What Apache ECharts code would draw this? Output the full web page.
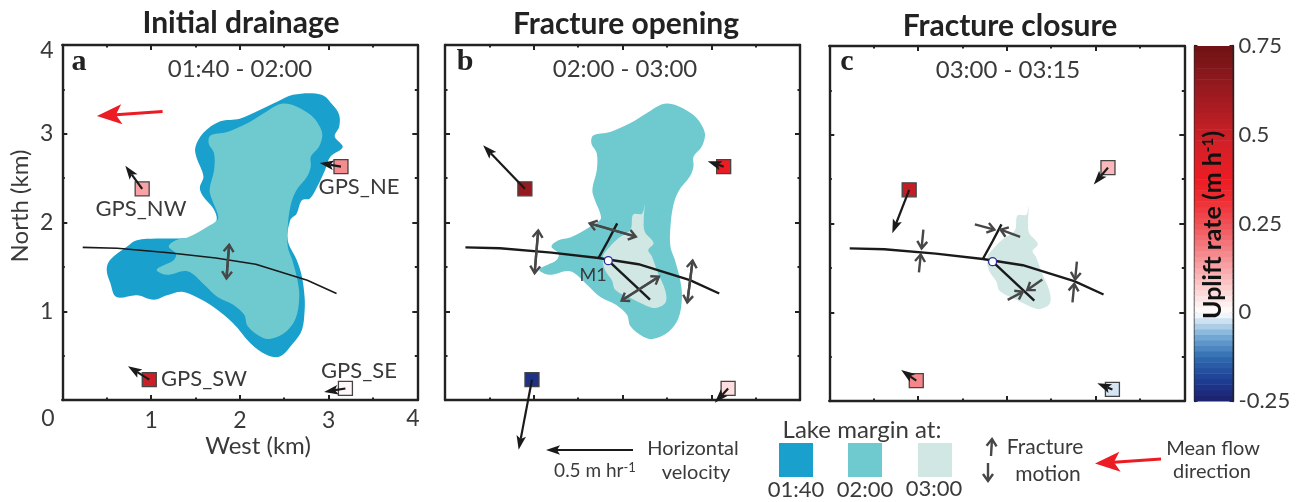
<!DOCTYPE html>
<html>
<head>
<meta charset="utf-8">
<style>html,body{margin:0;padding:0;background:#fff}#box{width:1299px;height:502px}</style>
<script src="https://cdn.jsdelivr.net/npm/echarts@6/dist/echarts.min.js"></script>
</head>
<body>
<div id="box"></div>
<script>
// all map values in km (West, North)
var lake0140 = [[2.60,3.44],[2.92,3.44],[3.05,3.32],[3.12,3.21],[3.12,3.08],[3.07,2.97],[3.16,2.85],[3.02,2.74],[2.96,2.59],[2.87,2.40],[2.79,2.27],[2.70,2.25],[2.64,2.10],[2.57,2.03],[2.54,1.80],[2.64,1.58],[2.70,1.39],[2.73,1.16],[2.73,1.00],[2.70,0.79],[2.60,0.64],[2.45,0.49],[2.30,0.51],[2.12,0.64],[1.93,0.86],[1.70,1.05],[1.51,1.16],[1.35,1.22],[1.18,1.18],[1.03,1.13],[0.84,1.18],[0.61,1.16],[0.54,1.32],[0.50,1.47],[0.54,1.58],[0.73,1.73],[0.84,1.80],[1.06,1.82],[1.25,1.82],[1.51,1.84],[1.66,1.93],[1.74,2.03],[1.70,2.16],[1.59,2.29],[1.55,2.39],[1.59,2.52],[1.51,2.74],[1.50,2.85],[1.59,3.01],[1.78,3.14],[2.00,3.17],[2.23,3.27],[2.42,3.36]];
var lake0200 = [[2.50,3.34],[2.63,3.31],[2.80,3.21],[2.89,3.10],[2.93,2.99],[2.89,2.85],[2.80,2.74],[2.80,2.63],[2.76,2.52],[2.63,2.35],[2.57,2.18],[2.54,1.95],[2.54,1.73],[2.59,1.58],[2.65,1.35],[2.67,1.16],[2.63,0.92],[2.52,0.77],[2.35,0.69],[2.24,0.71],[2.09,0.83],[2.05,0.96],[1.93,1.07],[1.75,1.16],[1.60,1.30],[1.41,1.45],[1.18,1.41],[1.07,1.45],[1.07,1.48],[1.15,1.52],[1.26,1.58],[1.28,1.65],[1.20,1.73],[1.28,1.80],[1.41,1.83],[1.63,1.95],[1.75,2.03],[1.75,2.10],[1.69,2.25],[1.66,2.37],[1.71,2.59],[1.71,2.78],[1.65,2.89],[1.67,2.98],[1.86,3.02],[2.09,3.12],[2.27,3.23],[2.42,3.32]];
var lake0300 = [[2.25,2.20],[2.22,2.10],[2.12,2.09],[2.09,1.92],[1.95,1.82],[1.86,1.73],[1.78,1.62],[1.80,1.47],[1.88,1.35],[1.92,1.24],[2.09,1.15],[2.33,1.04],[2.42,1.05],[2.49,1.11],[2.48,1.24],[2.40,1.43],[2.33,1.62],[2.29,1.69],[2.35,1.77],[2.25,1.90],[2.24,2.05]];

var mainFracture = [[0.23,1.72],[0.62,1.71],[1.20,1.66],[1.73,1.60],[2.18,1.53],[2.76,1.35],[3.09,1.20]];
var branchNorth = [[1.73,1.60],[1.84,1.80],[1.94,1.99]];
var branchSouth = [[1.84,1.57],[2.31,1.13]];
var moulin = [[1.84,1.57]];

// [west, north, uplift rate m/h] for NW, NE, SW, SE
var gpsA = [[0.90,2.38,0.13],[3.14,2.63,0.16],[0.98,0.23,0.5],[3.19,0.13,0.01]];
var gpsB = [[0.90,2.38,0.63],[3.14,2.63,0.38],[0.98,0.23,-0.21],[3.19,0.13,0.05]];
var gpsC = [[0.90,2.38,0.52],[3.14,2.63,0.1],[0.98,0.23,0.17],[3.19,0.13,-0.02]];
// [from west, from north, to west, to north]
var velA = [[0.90,2.38,0.71,2.64],[3.14,2.63,2.90,2.67],[0.98,0.23,0.74,0.38],[3.19,0.13,2.95,0.09]];
var velB = [[0.90,2.38,0.43,2.87],[3.14,2.63,2.96,2.69],[0.98,0.23,0.83,-0.56],[3.19,0.13,3.04,-0.03]];
var velC = [[0.90,2.38,0.71,1.89],[3.14,2.63,2.98,2.44],[0.98,0.23,0.81,0.35],[3.19,0.13,3.02,0.20]];

var motionA = [[1.88,1.75,1.85,1.37]];
var motionB = [[1.05,1.91,1.01,1.43],[1.63,1.99,2.15,1.84],[1.99,1.12,2.41,1.39],[2.79,1.57,2.73,1.10]];
var motionC = [[1.64,1.99,1.86,1.93],[2.15,1.85,1.93,1.93],[2.79,1.57,2.77,1.37],[2.74,1.11,2.76,1.32],[2.40,1.37,2.23,1.25],[2.01,1.14,2.18,1.23],[1.06,1.93,1.04,1.72],[1.01,1.45,1.03,1.65]];
var flowArrow = [[1.13,3.25,0.39,3.20]];

var upliftTicks = [-0.25, 0, 0.25, 0.5, 0.75];
var upliftColors = ['#1b1f6b','#1f3f96','#2f6bb0','#7bafd9','#ffffff','#fdd5d5','#f8a5a8','#f37a7e','#f05055','#ee2f35','#ed1c24','#dd1f26','#c92027','#b01c22','#991a1e','#83161a','#6e1214'];
var upliftLevels = [];
for (var i = 0; i < 64; i++) {
    var lo = -0.25 + i / 64;
    upliftLevels.push([lo, lo + 1 / 64, lo + 0.5 / 64]);
}

var blue = '#1aa0cd', teal = '#6fcad0', pale = '#d0e7e3';
var ink = '#3a3a3a', black = '#1a1a1a', grey = '#474747', red = '#ed1c24';
var font = 'Lato, "Open Sans", sans-serif';

// arrow pieces in pixels, used by the series and by the legend keys
function arrowParts(a, b, kind) {
    var dx = b[0] - a[0], dy = b[1] - a[1], len = Math.sqrt(dx * dx + dy * dy);
    var ux = dx / len, uy = dy / len;
    function at(back, side) {
        return [b[0] - ux * back - uy * side, b[1] - uy * back + ux * side];
    }
    if (kind == 'chevron') {
        return [{type: 'polyline', shape: {points: [a, b]}, style: {stroke: grey, lineWidth: 2.4, fill: null}},
            {type: 'polyline', shape: {points: [at(7, 5), b, at(7, -5)]}, style: {stroke: grey, lineWidth: 2.4, fill: null}}];
    }
    if (kind == 'chevronBoth') {
        var back = arrowParts(b, a, 'chevron');
        return arrowParts(a, b, 'chevron').concat(back);
    }
    var big = kind == 'red';
    var col = big ? red : black;
    var hl = big ? 25 : 14, hw = big ? 10 : 4.8, nk = big ? 19 : 11;
    return [{type: 'polyline', shape: {points: [a, at(nk, 0)]}, style: {stroke: col, lineWidth: big ? 3 : 2.2, fill: null}},
        {type: 'polygon', shape: {points: [b, at(hl, hw), at(nk, 0), at(hl, -hw)]}, style: {fill: col}}];
}

function polySeries(pts, color, idx, z) {
    return {
        type: 'custom', xAxisIndex: idx, yAxisIndex: idx, z: z, data: pts, silent: true,
        clip: false,
        renderItem: function (params, api) {
            if (params.dataIndex != 0) return;
            return {type: 'polygon', shape: {points: pts.map(function (p) { return api.coord(p); }), smooth: 0.35}, style: {fill: color}};
        }
    };
}
function arrowSeries(rows, kind, idx, z) {
    return {
        type: 'custom', xAxisIndex: idx, yAxisIndex: idx, z: z, data: rows, silent: true, clip: false,
        renderItem: function (params, api) {
            var a = api.coord([api.value(0), api.value(1)]);
            var b = api.coord([api.value(2), api.value(3)]);
            return {type: 'group', children: arrowParts(a, b, kind)};
        }
    };
}
function lineSeries(pts, idx, width) {
    return {
        type: 'line', xAxisIndex: idx, yAxisIndex: idx, z: 5, data: pts, showSymbol: false, silent: true,
        lineStyle: {color: black, width: width}, animation: false
    };
}
function gpsSeries(pts, idx) {
    return {
        type: 'scatter', xAxisIndex: idx, yAxisIndex: idx, z: 6, data: pts, symbol: 'rect', symbolSize: 14, silent: true,
        itemStyle: {borderColor: '#444', borderWidth: 1.3, opacity: 1}
    };
}
function moulinSeries(idx) {
    return {
        type: 'scatter', xAxisIndex: idx, yAxisIndex: idx, z: 7, data: moulin, symbol: 'circle', symbolSize: 8, silent: true,
        itemStyle: {color: '#fff', borderColor: '#2a2f95', borderWidth: 1.3, opacity: 1}
    };
}

var frames = [
    {left: 62.3, top: 45, labels: true},
    {left: 445, top: 45, labels: false},
    {left: 829.3, top: 46, labels: false}
];
var grids = [], xAxes = [], yAxes = [];
frames.forEach(function (f, n) {
    grids.push({left: f.left, top: f.top, width: 355, height: 355});
    var boxLine = {show: true, onZero: false, lineStyle: {color: '#222', width: 2.4}};
    var tick = {show: true, inside: true, length: 5, lineStyle: {color: '#222', width: 2}};
    var minor = {show: true, splitNumber: 2, length: 2.5, lineStyle: {color: '#222', width: 2}};
    [['bottom', 'left'], ['top', 'right']].forEach(function (pos, k) {
        var lab = f.labels && k == 0;
        xAxes.push({
            type: 'value', gridIndex: n, position: pos[0], min: 0, max: 4, interval: 1, splitLine: {show: false},
            axisLine: boxLine, axisTick: tick, minorTick: minor,
            axisLabel: {show: lab, showMinLabel: false, showMaxLabel: false, margin: 9, color: ink, fontSize: 23, fontFamily: font}
        });
        yAxes.push({
            type: 'value', gridIndex: n, position: pos[1], min: 0, max: 4, interval: 1, splitLine: {show: false},
            axisLine: boxLine, axisTick: tick, minorTick: minor,
            axisLabel: {show: lab, showMinLabel: false, showMaxLabel: false, margin: 9, color: ink, fontSize: 23, fontFamily: font}
        });
    });
});
// colour bar grid, axes 6 and 7
grids.push({left: 1194.5, top: 46, width: 38, height: 355});
xAxes.push({type: 'value', gridIndex: 3, min: 0, max: 1, show: false});
xAxes.push({type: 'value', gridIndex: 3, min: 0, max: 1, show: false});
var barLine = {show: true, onZero: false, lineStyle: {color: '#222', width: 2.4}};
yAxes.push({
    type: 'value', gridIndex: 3, position: 'right', min: -0.25, max: 0.75, interval: 0.25, splitLine: {show: false},
    axisLine: barLine, axisTick: {show: true, inside: true, length: 3, lineStyle: {color: '#222', width: 2}},
    axisLabel: {show: true, margin: 6, color: ink, fontSize: 22, fontFamily: font, align: 'left',
        formatter: function (v) { return upliftTicks.indexOf(v) < 0 ? '' : String(v); }}
});
yAxes.push({
    type: 'value', gridIndex: 3, position: 'left', min: -0.25, max: 0.75, interval: 0.25, splitLine: {show: false},
    axisLine: barLine, axisTick: {show: true, inside: true, length: 3, lineStyle: {color: '#222', width: 2}},
    axisLabel: {show: false}
});

var series = [
    // panel a
    polySeries(lake0140, blue, 0, 2),
    polySeries(lake0200, teal, 0, 3),
    lineSeries(mainFracture, 0, 1.6),
    arrowSeries(motionA, 'chevronBoth', 0, 6),
    gpsSeries(gpsA, 0),
    arrowSeries(velA, 'dart', 0, 8),
    arrowSeries(flowArrow, 'red', 0, 8),
    // panel b
    polySeries(lake0200, teal, 2, 2),
    polySeries(lake0300, pale, 2, 3),
    lineSeries(mainFracture, 2, 2.4),
    lineSeries(branchNorth, 2, 2.4),
    lineSeries(branchSouth, 2, 2.4),
    moulinSeries(2),
    arrowSeries(motionB, 'chevronBoth', 2, 6),
    gpsSeries(gpsB, 2),
    arrowSeries(velB, 'dart', 2, 8),
    // panel c
    polySeries(lake0300, pale, 4, 2),
    lineSeries(mainFracture, 4, 2.4),
    lineSeries(branchNorth, 4, 2.4),
    lineSeries(branchSouth, 4, 2.4),
    moulinSeries(4),
    arrowSeries(motionC, 'chevron', 4, 6),
    gpsSeries(gpsC, 4),
    arrowSeries(velC, 'dart', 4, 8)
];
var gpsIdx = [];
series.forEach(function (s, n) { if (s.symbol == 'rect') gpsIdx.push(n); });
series.push({
    type: 'custom', xAxisIndex: 6, yAxisIndex: 6, z: 2, data: upliftLevels, silent: true,
    encode: {y: [0, 1]},
    renderItem: function (params, api) {
        var a = api.coord([0, api.value(1)]), b = api.coord([1, api.value(0)]);
        return {type: 'rect', shape: {x: a[0], y: a[1], width: b[0] - a[0], height: b[1] - a[1] + 0.5}, style: {fill: api.visual('color')}};
    }
});
gpsIdx.push(series.length - 1);

function txt(text, x, y, size, opts) {
    opts = opts || {};
    return {
        type: 'text', x: x, y: y, rotation: opts.rot || 0, z: 20, silent: true,
        style: {text: text, fill: opts.fill || ink, fontSize: size, fontFamily: opts.family || font, fontWeight: opts.weight || 'normal',
            align: opts.align || 'center', verticalAlign: 'middle', rich: opts.rich}
    };
}
function key(x, color) {
    return {type: 'rect', shape: {x: x, y: 443, width: 34, height: 34}, style: {fill: color}};
}
var letterFont = '"Liberation Serif", serif';
var graphic = [
    txt('Initial drainage', 241, 23, 30, {weight: 'bold', fill: '#222'}),
    txt('Fracture opening', 626, 24, 30, {weight: 'bold', fill: '#222'}),
    txt('Fracture closure', 1010, 26, 30, {weight: 'bold', fill: '#222'}),
    txt('a', 79, 62, 30, {weight: 'bold', fill: '#222', family: letterFont}),
    txt('b', 465, 62, 30, {weight: 'bold', fill: '#222', family: letterFont}),
    txt('c', 847, 62, 30, {weight: 'bold', fill: '#222', family: letterFont}),
    txt('01:40 - 02:00', 240, 69, 24),
    txt('02:00 - 03:00', 625, 69, 24),
    txt('03:00 - 03:15', 1008, 70, 24),
    txt('GPS_NW', 141, 209, 22),
    txt('GPS_NE', 359, 187, 22),
    txt('GPS_SW', 204, 379, 22),
    txt('GPS_SE', 359, 371, 22),
    txt('M1', 593, 275, 18),
    txt('4', 47, 51, 23),
    txt('0', 48, 419, 23),
    txt('4', 413, 419, 23),
    txt('West (km)', 258, 446, 24),
    txt('North (km)', 20, 206, 24, {rot: Math.PI / 2}),
    txt('{a|Uplift rate (m h}{b|-1}{a|)}', 1213, 225, 25, {rot: Math.PI / 2, fill: '#111', rich: {
        a: {fontSize: 25, fontWeight: 'bold', fontFamily: font, fill: '#111'},
        b: {fontSize: 15, fontWeight: 'bold', fontFamily: font, fill: '#111', verticalAlign: 'top'}
    }}),
    txt('Lake margin at:', 862, 430, 24),
    key(779, blue), key(848, teal), key(918, pale),
    txt('01:40', 796, 490, 22),
    txt('02:00', 865, 490, 22),
    txt('03:00', 934, 489, 22),
    txt('{a|0.5 m hr}{b|-1}', 595, 471, 19, {rich: {
        a: {fontSize: 19, fontFamily: font, fill: ink},
        b: {fontSize: 13, fontFamily: font, fill: ink, verticalAlign: 'top'}
    }}),
    txt('Horizontal', 693, 449, 20),
    txt('velocity', 696, 473, 20),
    txt('Fracture', 1045, 447, 21),
    txt('motion', 1048, 474, 21),
    txt('Mean flow', 1213, 449, 20),
    txt('direction', 1212, 472, 20),
    {type: 'group', children: arrowParts([633, 450], [546, 450], 'dart')},
    {type: 'group', children: arrowParts([991, 456], [992, 439], 'chevron')},
    {type: 'group', children: arrowParts([988, 463], [988, 481], 'chevron')},
    {type: 'group', children: arrowParts([1161, 459], [1095, 463.5], 'red')}
];

var myChart = echarts.init(document.getElementById('box'), null, {renderer: 'canvas'});
myChart.setOption({
    animation: false,
    backgroundColor: '#fff',
    grid: grids,
    xAxis: xAxes,
    yAxis: yAxes,
    visualMap: {show: false, type: 'continuous', min: -0.25, max: 0.75, dimension: 2, seriesIndex: gpsIdx, inRange: {color: upliftColors}},
    series: series,
    graphic: graphic
});
window.addEventListener('resize', function () {
    myChart.resize();
});
</script>
</body>
</html>
